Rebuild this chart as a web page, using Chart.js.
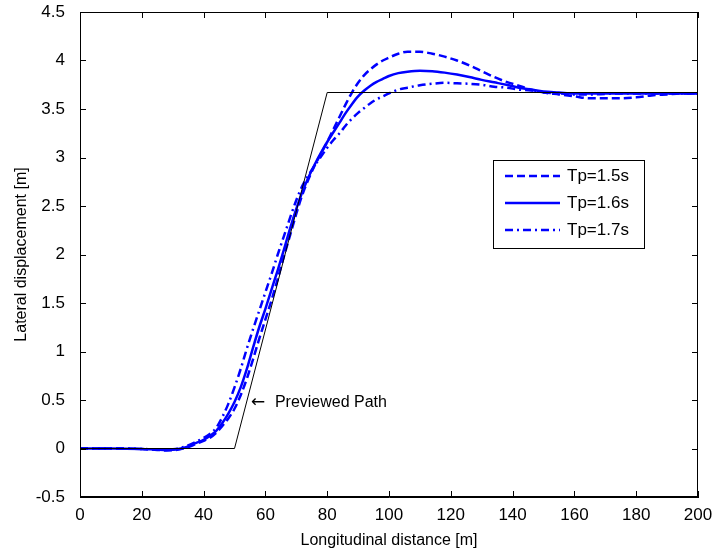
<!DOCTYPE html>
<html>
<head>
<meta charset="utf-8">
<script src="https://cdn.jsdelivr.net/npm/chart.js@4"></script>
<style>body { margin: 0; background: #fff; }</style>
</head>
<body>
<canvas id="lateral" width="718" height="554"></canvas>
<script>
// longitudinal distance samples [m]
const distance = [0, 10, 20, 25, 28, 31, 34, 37, 40, 42, 44, 46, 48, 50, 52, 54, 56, 58, 60, 62,
    64, 66, 68, 70, 72, 74, 76, 78, 80, 82, 84, 86, 88, 90, 92, 94, 96, 98, 100, 103,
    106, 110, 114, 118, 122, 126, 130, 134, 138, 142, 146, 150, 155, 160, 165, 170, 175, 180, 185, 190,
    195, 200];

// lateral displacement [m] for each preview time
const tp15 = [0, 0, -0.005, -0.015, -0.02, -0.015, 0.005, 0.04, 0.08, 0.11, 0.16, 0.23, 0.31, 0.41, 0.55, 0.72, 0.92, 1.13, 1.33, 1.53,
    1.75, 1.98, 2.20, 2.42, 2.62, 2.78, 2.92, 3.04, 3.16, 3.29, 3.42, 3.55, 3.67, 3.77, 3.85, 3.91, 3.96, 4.00, 4.03, 4.07,
    4.09, 4.09, 4.07, 4.04, 4.00, 3.95, 3.89, 3.83, 3.78, 3.74, 3.70, 3.67, 3.65, 3.63, 3.61, 3.61, 3.61, 3.62, 3.64, 3.65,
    3.66, 3.66];
const tp16 = [0, 0, -0.005, -0.012, -0.015, -0.01, 0.01, 0.05, 0.09, 0.13, 0.18, 0.26, 0.36, 0.48, 0.63, 0.82, 1.04, 1.25, 1.44, 1.64,
    1.84, 2.05, 2.27, 2.47, 2.65, 2.80, 2.93, 3.05, 3.16, 3.26, 3.36, 3.46, 3.55, 3.63, 3.69, 3.74, 3.78, 3.81, 3.84, 3.87,
    3.885, 3.895, 3.89, 3.875, 3.855, 3.83, 3.80, 3.775, 3.75, 3.72, 3.70, 3.68, 3.67, 3.66, 3.66, 3.66, 3.66, 3.66, 3.66, 3.66,
    3.66, 3.66];
const tp17 = [0, 0, -0.005, -0.01, -0.012, -0.005, 0.02, 0.06, 0.11, 0.15, 0.21, 0.32, 0.46, 0.63, 0.82, 1.03, 1.23, 1.42, 1.61, 1.80,
    2.00, 2.19, 2.38, 2.56, 2.71, 2.82, 2.92, 3.01, 3.10, 3.18, 3.25, 3.33, 3.40, 3.46, 3.51, 3.56, 3.60, 3.63, 3.66, 3.70,
    3.72, 3.745, 3.76, 3.77, 3.765, 3.76, 3.75, 3.73, 3.72, 3.70, 3.69, 3.67, 3.66, 3.65, 3.65, 3.655, 3.66, 3.66, 3.66, 3.66,
    3.66, 3.66];

// previewed (reference) path
const pathX = [0, 50, 80, 200];
const pathY = [0, 0, 3.67, 3.67];

const seriesLabels = ["Tp=1.5s", "Tp=1.6s", "Tp=1.7s"];
const pathLabel = "Previewed Path";
const pathLabelAt = [55.3, 0.47]; // where the arrow text sits (data units)

const FONT = '"Liberation Sans", Arial, sans-serif';
const BLUE = "#0000ff";
const dashStyles = [[8, 4], [], [8, 4, 2, 4]];

function toPoints(xs, ys) {
    return xs.map((x, i) => ({ x: x, y: ys[i] }));
}

// frame, inward ticks, legend box and path label, MATLAB style
const matlabDecor = {
    id: "matlabDecor",
    afterDraw(chart) {
        const ctx = chart.ctx;
        const ca = chart.chartArea;
        const sx = chart.scales.x, sy = chart.scales.y;
        const tl = 6;

        ctx.save();
        ctx.strokeStyle = "#000";
        ctx.lineWidth = 1;
        ctx.strokeRect(ca.left + 0.5, ca.top + 0.5, ca.right - ca.left - 1, ca.bottom - ca.top - 1);

        ctx.beginPath();
        sx.ticks.forEach(t => {
            const px = Math.round(sx.getPixelForValue(t.value)) + 0.5;
            ctx.moveTo(px, ca.bottom); ctx.lineTo(px, ca.bottom - tl);
            ctx.moveTo(px, ca.top); ctx.lineTo(px, ca.top + tl);
        });
        sy.ticks.forEach(t => {
            const py = Math.round(sy.getPixelForValue(t.value)) + 0.5;
            ctx.moveTo(ca.left, py); ctx.lineTo(ca.left + tl, py);
            ctx.moveTo(ca.right, py); ctx.lineTo(ca.right - tl, py);
        });
        ctx.stroke();

        // path label with arrow
        const ax = sx.getPixelForValue(pathLabelAt[0]);
        const ay = sy.getPixelForValue(pathLabelAt[1]);
        ctx.fillStyle = "#000";
        ctx.textBaseline = "middle";
        ctx.textAlign = "left";
        ctx.font = "17px \"DejaVu Sans\", sans-serif";
        ctx.fillText("\u2190", ax, ay);
        ctx.font = "16px " + FONT;
        ctx.fillText(pathLabel, ax + 24, ay);

        // legend
        const lx = 493, ly = 160, lw = 151, lh = 88;
        ctx.fillStyle = "#fff";
        ctx.fillRect(lx, ly, lw, lh);
        ctx.strokeRect(lx + 0.5, ly + 0.5, lw, lh);
        ctx.font = "17px " + FONT;
        seriesLabels.forEach((lab, i) => {
            const yy = ly + 16 + i * 27;
            ctx.strokeStyle = BLUE;
            ctx.lineWidth = 2.5;
            ctx.setLineDash(dashStyles[i]);
            ctx.beginPath();
            ctx.moveTo(lx + 12, yy); ctx.lineTo(lx + 67, yy);
            ctx.stroke();
            ctx.setLineDash([]);
            ctx.fillStyle = "#000";
            ctx.fillText(lab, lx + 74, yy);
        });
        ctx.restore();
    }
};

const ctx = document.getElementById("lateral").getContext("2d");

new Chart(ctx, {
    type: "line",
    data: {
        datasets: [
            {
                label: pathLabel,
                data: toPoints(pathX, pathY),
                borderColor: "#000",
                borderWidth: 1,
                pointRadius: 0
            },
            ...[tp15, tp16, tp17].map((ys, i) => ({
                label: seriesLabels[i],
                data: toPoints(distance, ys),
                borderColor: BLUE,
                borderWidth: 2.5,
                borderDash: dashStyles[i],
                pointRadius: 0,
                cubicInterpolationMode: "monotone"
            }))
        ]
    },
    options: {
        responsive: false,
        animation: false,
        devicePixelRatio: 1,
        layout: { padding: { top: 12, right: 20, left: 0, bottom: 0 } },
        plugins: { legend: { display: false }, tooltip: { enabled: false } },
        scales: {
            x: {
                type: "linear",
                min: 0,
                max: 200,
                grid: { display: false, drawTicks: false },
                border: { display: true, color: "#000" },
                ticks: { stepSize: 20, color: "#000", padding: 8, font: { family: FONT, size: 17 }, maxRotation: 0 },
                title: { display: true, text: "Longitudinal distance [m]", color: "#000", font: { family: FONT, size: 16 }, padding: { top: 2, bottom: 4 } },
                afterFit: s => { s.height = 57; s.paddingLeft = 0; s.paddingRight = 0; }
            },
            y: {
                min: -0.5,
                max: 4.5,
                grid: { display: false, drawTicks: false },
                border: { display: true, color: "#000" },
                ticks: { stepSize: 0.5, color: "#000", padding: 15, font: { family: FONT, size: 17 }, callback: v => String(v) },
                title: { display: true, text: "Lateral displacement [m]", color: "#000", font: { family: FONT, size: 16 }, padding: { top: 12, bottom: 4 } },
                afterFit: s => { s.width = 80; s.paddingTop = 0; s.paddingBottom = 0; }
            }
        }
    },
    plugins: [matlabDecor]
});
</script>
</body>
</html>
